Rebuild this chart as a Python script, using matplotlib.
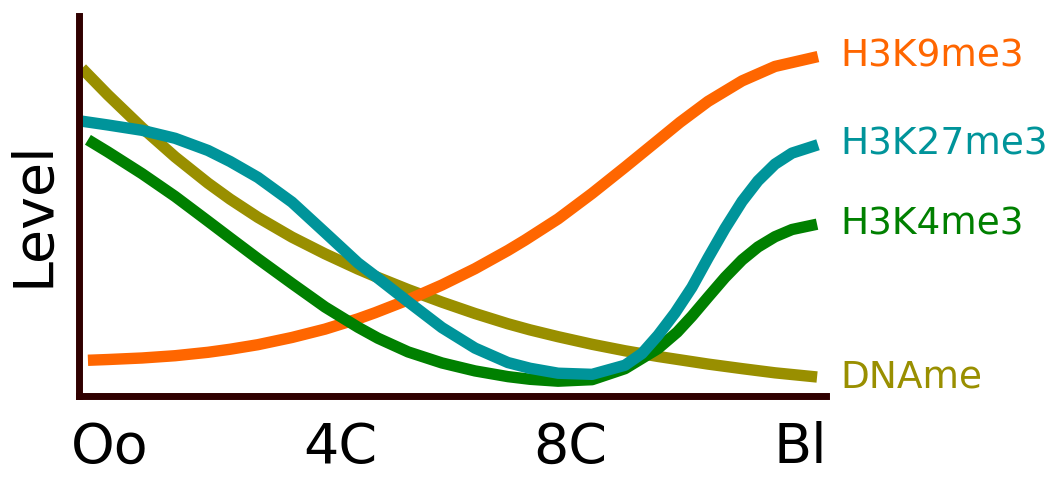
import matplotlib
matplotlib.use('Agg')
import matplotlib.pyplot as plt

# stages on the x axis (Oo=0 ... Bl=3), level on a 0-100 scale
stages = ['Oo', '4C', '8C', 'Bl']
stage_pos = [0, 1, 2, 3]

# curves: (stage position, level)
k9_x = [-0.096, -0.009, 0.139, 0.283, 0.426, 0.522, 0.643, 0.791, 0.935, 1.078, 1.152, 1.296,
        1.443, 1.587, 1.730, 1.804, 1.948, 2.096, 2.239, 2.383, 2.478, 2.600, 2.748, 2.891, 3.078]
k9_y = [9.4, 9.6, 10.0, 10.6, 11.5, 12.3, 13.5, 15.4, 17.6, 20.3, 21.9, 25.3,
        29.2, 33.5, 38.3, 41.0, 46.6, 53.3, 60.2, 67.3, 72.0, 77.5, 82.9, 86.7, 89.3]

k27_x = [-0.122, -0.009, 0.139, 0.283, 0.426, 0.522, 0.643, 0.791, 0.935, 1.078, 1.152, 1.296,
         1.443, 1.587, 1.730, 1.826, 1.948, 2.096, 2.239, 2.313, 2.383, 2.457, 2.530, 2.600,
         2.674, 2.748, 2.817, 2.891, 2.965, 3.078]
k27_y = [72.3, 71.3, 69.9, 67.8, 64.6, 61.7, 57.5, 51.0, 43.0, 35.0, 31.6, 24.8,
         18.0, 12.6, 8.8, 7.3, 6.0, 5.7, 8.1, 11.2, 16.0, 21.9, 28.6, 36.3,
         44.1, 51.2, 56.6, 61.0, 63.9, 66.1]

k4_x = [-0.096, -0.009, 0.139, 0.283, 0.426, 0.522, 0.643, 0.791, 0.935, 1.078, 1.165, 1.296,
        1.443, 1.587, 1.730, 1.826, 1.948, 2.096, 2.239, 2.383, 2.466, 2.530, 2.600, 2.674,
        2.748, 2.817, 2.891, 2.965, 3.074]
k4_y = [67.4, 64.2, 58.5, 52.5, 46.0, 41.6, 36.1, 29.6, 23.4, 18.1, 15.2, 11.6,
        8.7, 6.6, 5.1, 4.4, 3.9, 4.3, 7.2, 12.5, 16.8, 21.0, 26.0, 31.2,
        35.8, 39.2, 41.9, 43.8, 45.2]

dna_x = [-0.122, -0.009, 0.139, 0.283, 0.426, 0.522, 0.643, 0.791, 0.935, 1.078, 1.152, 1.296,
         1.443, 1.587, 1.730, 1.826, 1.948, 2.096, 2.239, 2.383, 2.600, 2.748, 2.891, 3.074]
dna_y = [86.2, 79.2, 70.6, 62.9, 56.0, 51.8, 47.0, 41.8, 37.4, 33.4, 31.5, 28.0,
         24.7, 21.7, 19.0, 17.4, 15.6, 13.6, 11.9, 10.4, 8.4, 7.2, 6.1, 5.0]

series = [
    ('H3K9me3', k9_x, k9_y, '#ff6600'),
    ('H3K27me3', k27_x, k27_y, '#00949a'),
    ('H3K4me3', k4_x, k4_y, '#008000'),
    ('DNAme', dna_x, dna_y, '#998f00'),
]

fig = plt.figure(figsize=(10.5, 4.83), dpi=100)
ax = fig.add_axes([0.0752, 0.1801, 0.7115, 0.787])

# draw order: olive at back, then orange, green, teal
for name, xs, ys, col in [series[3], series[0], series[2], series[1]]:
    ax.plot(xs, ys, color=col, lw=8.2, solid_joinstyle='round', solid_capstyle='butt')

for name, xs, ys, col in series:
    ax.text(3.174, ys[-1], name, color=col, fontsize=27, ha='left', va='center')

ax.set_xlim(-0.135, 3.113)
ax.set_ylim(0, 100)
ax.set_xticks(stage_pos)
ax.set_xticklabels(stages, fontsize=40)
ax.set_yticks([])
ax.tick_params(axis='x', length=0, pad=18)

for s in ['top', 'right']:
    ax.spines[s].set_visible(False)
for s in ['left', 'bottom']:
    ax.spines[s].set_linewidth(5)
    ax.spines[s].set_color('#300000')
    ax.spines[s].set_capstyle('projecting')

ax.text(-0.0616, 0.48, 'Level', transform=ax.transAxes, rotation=90,
        fontsize=40, ha='center', va='center')

fig.savefig('out.png', dpi=100)
